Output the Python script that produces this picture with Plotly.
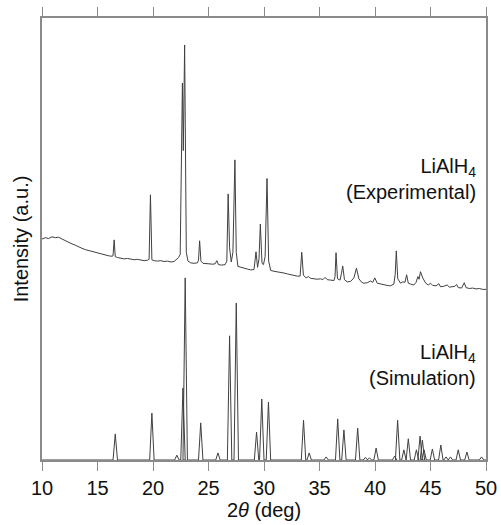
import plotly.graph_objects as go

# ---------------- data ----------------
# Experimental pattern (2theta in deg, intensity a.u., offset upwards)
x_exp = [10.0, 10.3, 10.6, 10.9, 11.2, 11.5, 11.8, 12.1, 12.4, 12.7, 13.0, 13.3, 13.6, 13.9,
         14.2, 14.5, 14.8, 15.1, 15.4, 15.7, 16.0, 16.3, 16.4, 16.5, 16.6, 16.8, 17.1, 17.4,
         17.7, 18.0, 18.3, 18.6, 18.9, 19.2, 19.5, 19.65, 19.77, 19.9, 20.1, 20.4, 20.7, 21.0,
         21.3, 21.6, 21.9, 22.1, 22.3, 22.45, 22.65, 22.73, 22.85, 23.0, 23.15, 23.4, 23.7,
         24.0, 24.1, 24.2, 24.32, 24.5, 24.8, 25.1, 25.4, 25.6, 25.75, 25.9, 26.2, 26.5, 26.65,
         26.77, 26.9, 27.05, 27.2, 27.38, 27.5, 27.65, 27.9, 28.2, 28.5, 28.8, 29.1, 29.28,
         29.42, 29.55, 29.67, 29.82, 29.95, 30.1, 30.27, 30.42, 30.6, 30.9, 31.2, 31.5, 31.8,
         32.1, 32.4, 32.7, 33.0, 33.25, 33.4, 33.55, 33.8, 34.0, 34.2, 34.5, 34.8, 35.1, 35.3,
         35.5, 35.7, 36.0, 36.3, 36.4, 36.49, 36.62, 36.85, 37.0, 37.09, 37.25, 37.5, 37.8,
         38.1, 38.33, 38.55, 38.8, 39.0, 39.3, 39.6, 39.8, 39.98, 40.2, 40.5, 40.8, 41.1, 41.4,
         41.7, 41.82, 41.92, 42.05, 42.3, 42.5, 42.7, 42.85, 43.0, 43.2, 43.5, 43.7, 43.87,
         43.97, 44.1, 44.3, 44.57, 44.8, 45.0, 45.2, 45.5, 45.75, 45.9, 46.2, 46.5, 46.7, 47.0,
         47.2, 47.35, 47.5, 47.8, 48.04, 48.2, 48.5, 48.8, 49.1, 49.4, 49.7, 50.0]
y_exp = [50.0, 50.3, 50.1, 50.5, 50.3, 50.4, 50.0, 49.6, 49.3, 48.9, 48.6, 48.2, 47.9, 47.6,
         47.4, 47.1, 46.9, 46.7, 46.5, 46.4, 46.2, 46.1, 46.2, 49.8, 46.0, 45.8, 45.7, 45.5,
         45.6, 45.4, 45.3, 45.4, 45.2, 45.1, 45.2, 45.4, 60.0, 45.3, 45.1, 45.0, 45.1, 44.9,
         45.0, 44.8, 44.9, 45.4, 45.8, 46.5, 85.3, 70.0, 93.9, 47.0, 45.0, 44.6, 44.5,
         44.6, 45.2, 49.6, 45.0, 44.5, 44.4, 44.3, 44.3, 44.4, 45.1, 44.2, 44.1, 44.2, 45.0,
         60.2, 48.0, 44.8, 47.0, 67.9, 47.0, 43.8, 43.6, 43.3, 43.2, 43.0, 43.1, 47.1,
         43.6, 45.5, 53.4, 44.5, 44.2, 46.0, 63.7, 45.0, 42.9, 42.7, 42.6, 42.4, 42.3,
         42.1, 41.9, 41.8, 41.6, 41.6, 47.0, 41.8, 41.2, 41.5, 41.1, 41.0, 40.9, 41.0, 40.8,
         41.3, 40.8, 40.7, 40.6, 41.5, 46.9, 41.0, 40.7, 42.5, 43.9, 40.8, 40.3, 40.4,
         41.2, 43.4, 41.0, 40.2, 40.0, 40.1, 40.5, 40.2, 41.2, 40.0, 39.8, 39.7, 39.5, 39.4,
         39.8, 42.0, 47.3, 41.0, 40.0, 40.3, 40.2, 41.9, 40.0, 39.8, 39.6, 40.2, 41.5,
         40.9, 42.6, 41.2, 40.0, 39.6, 40.0, 39.5, 39.4, 39.9, 39.2, 39.3, 39.6, 39.1, 39.2,
         39.3, 39.7, 39.0, 38.9, 40.1, 39.0, 38.8, 38.9, 38.7, 38.8, 38.6, 38.6]

# Simulated pattern: peak positions (deg) and heights (a.u.)
sim_pos = [16.6, 19.9, 22.15, 22.7, 22.9, 24.3, 25.85, 26.9, 27.5, 29.33, 29.8, 30.4,
           33.56, 34.07, 35.6, 36.64, 37.2, 38.44, 39.14, 39.5, 40.1, 41.77, 42.04, 42.6,
           43.0, 43.73, 44.06, 44.27, 44.42, 45.17, 45.93, 46.4, 46.8, 47.5, 48.28, 49.6]
sim_hgt = [5.9, 10.6, 1.1, 16.3, 41.2, 8.4, 1.6, 28.1, 35.5, 6.3, 13.8, 13.1,
           9.0, 1.6, 0.7, 9.3, 6.8, 7.2, 0.6, 0.5, 2.7, 0.9, 9.0, 2.3,
           4.8, 2.3, 5.4, 4.5, 2.3, 2.5, 3.4, 0.7, 0.7, 2.3, 1.8, 0.7]
sim_halfwidth = 0.2

x_ticks = [10, 15, 20, 25, 30, 35, 40, 45, 50]

# build simulated line (foot - top - foot for each peak)
x_sim, y_sim = [10.0], [0.0]
for p, h in zip(sim_pos, sim_hgt):
    x_sim += [p - sim_halfwidth, p, p + sim_halfwidth]
    y_sim += [0.0, h, 0.0]
x_sim.append(50.0)
y_sim.append(0.0)

line_col = "#404040"
axis_col = "#8a8a8a"
font_fam = "Arial, 'Liberation Sans', sans-serif"

fig = go.Figure()
fig.add_trace(go.Scatter(x=x_exp, y=y_exp, mode="lines",
                         line=dict(color=line_col, width=1), showlegend=False))
fig.add_trace(go.Scatter(x=x_sim, y=y_sim, mode="lines",
                         line=dict(color=line_col, width=1), showlegend=False))

fig.add_annotation(x=49.3, y=63.6, xref="x", yref="y", xanchor="right", yanchor="middle",
                   text="LiAlH<sub>4</sub><br>(Experimental)", align="right", showarrow=False,
                   font=dict(family=font_fam, size=20, color="#111"))
fig.add_annotation(x=49.3, y=21.5, xref="x", yref="y", xanchor="right", yanchor="middle",
                   text="LiAlH<sub>4</sub><br>(Simulation)", align="right", showarrow=False,
                   font=dict(family=font_fam, size=20, color="#111"))

fig.update_layout(
    width=501, height=525,
    margin=dict(l=42, r=15, t=18, b=65, autoexpand=False),
    paper_bgcolor="white", plot_bgcolor="white",
    font=dict(family=font_fam, size=20, color="#111"),
    xaxis=dict(range=[10, 50], tickvals=x_ticks, ticktext=[str(t) for t in x_ticks],
               showline=True, linecolor=axis_col, linewidth=1.5, mirror="ticks",
               ticks="outside", ticklen=9, tickwidth=1, tickcolor=axis_col,
               showgrid=False, zeroline=False, automargin=False,
               tickfont=dict(size=20),
               title=dict(text="2<i>θ</i> (deg)", font=dict(size=20), standoff=4)),
    yaxis=dict(range=[0, 100], showline=True, linecolor=axis_col, linewidth=1.5, mirror=True,
               showticklabels=False, ticks="", showgrid=False, zeroline=False,
               automargin=False,
               title=dict(text="Intensity (a.u.)", font=dict(size=20), standoff=6)),
)

fig.write_html("out.html")
